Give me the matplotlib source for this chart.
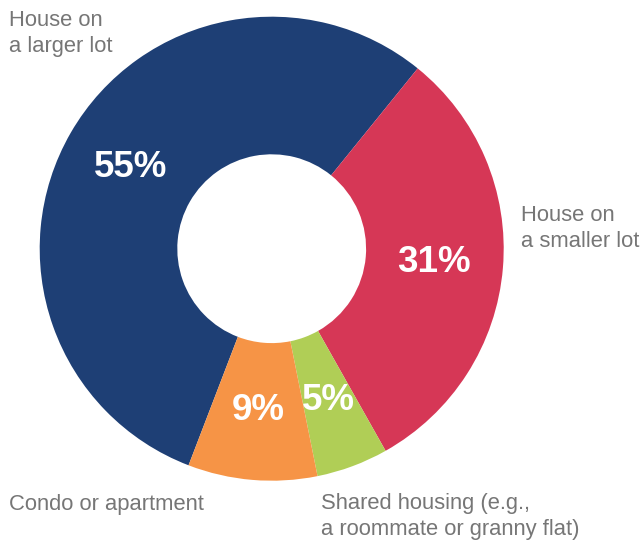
import matplotlib

matplotlib.use("Agg")
import matplotlib.pyplot as plt

# housing preference shares (percent), drawn clockwise
categories = ["House on\na larger lot", "House on\na smaller lot",
              "Shared housing (e.g.,\na roommate or granny flat)", "Condo or apartment"]
shares = [55, 31, 5, 9]
colors = ["#1e3f75", "#d63756", "#b0ce56", "#f69446"]

# where each category name sits (pixel x, pixel y of the last line's baseline)
label_pos = [(9, 52), (521, 247), (321, 535), (9, 510)]

W, H = 642, 545
cx, cy, R = 271.7, 248.7, 232.0


def to_data(px, py):
    return (px - cx) / R, (cy - py) / R


fig = plt.figure(figsize=(W / 100, H / 100), dpi=100)
ax = fig.add_axes([0, 0, 1, 1])

wedges, _, pcts = ax.pie(
    shares,
    colors=colors,
    startangle=249,
    counterclock=False,
    radius=1.0,
    wedgeprops=dict(width=1 - 94.4 / R, linewidth=0),
    autopct="%.0f%%",
    pctdistance=0.70,
    textprops=dict(color="white", fontsize=26.5, fontweight="bold",
                   family="Liberation Sans"),
)
ax.set_xlim(-cx / R, (W - cx) / R)
ax.set_ylim(-(H - cy) / R, cy / R)
ax.set_aspect("auto")
ax.axis("off")

for name, (px, py) in zip(categories, label_pos):
    x, y = to_data(px, py)
    ax.text(x, y, name, ha="left", va="baseline", fontsize=15.8,
            color="#767676", family="Liberation Sans", linespacing=1.3)

fig.savefig("out.png", dpi=100)
